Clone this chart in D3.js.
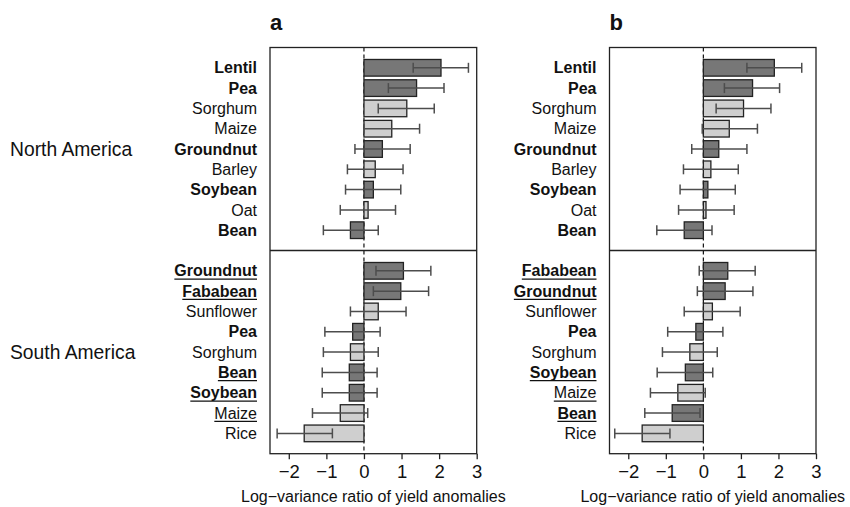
<!DOCTYPE html>
<html>
<head>
<meta charset="utf-8">
<script src="https://cdn.jsdelivr.net/npm/d3@7"></script>
<style>
  html, body { margin: 0; padding: 0; background: #fff; }
  svg { display: block; font-family: "Liberation Sans", Arial, Helvetica, sans-serif; }
</style>
</head>
<body>
<svg id="chart" width="850" height="507"></svg>
<script>
// ---------- DATA ----------
const legumes = ["Lentil", "Pea", "Groundnut", "Soybean", "Bean", "Fababean"];
const regions = ["North America", "South America"];
const panelLetters = ["a", "b"];
const tickValues = [-2, -1, 0, 1, 2, 3];
const axisTitle = "Log\u2212variance ratio of yield anomalies";

// Panel a
const naCropsA = ["Lentil", "Pea", "Sorghum", "Maize", "Groundnut", "Barley", "Soybean", "Oat", "Bean"];
const naValA   = [2.05, 1.40, 1.14, 0.74, 0.49, 0.30, 0.25, 0.11, -0.36];
const naLoA    = [1.31, 0.65, 0.38, 0.00, -0.24, -0.44, -0.49, -0.63, -1.08];
const naHiA    = [2.78, 2.13, 1.87, 1.48, 1.23, 1.04, 0.98, 0.84, 0.38];
const naUnderA = [];

const saCropsA = ["Groundnut", "Fababean", "Sunflower", "Pea", "Sorghum", "Bean", "Soybean", "Maize", "Rice"];
const saValA   = [1.05, 0.98, 0.38, -0.30, -0.36, -0.39, -0.39, -0.63, -1.59];
const saLoA    = [0.32, 0.25, -0.36, -1.04, -1.08, -1.11, -1.11, -1.37, -2.31];
const saHiA    = [1.78, 1.72, 1.12, 0.43, 0.38, 0.35, 0.35, 0.10, -0.84];
const saUnderA = ["Groundnut", "Fababean", "Bean", "Soybean", "Maize"];

// Panel b
const naCropsB = ["Lentil", "Pea", "Sorghum", "Maize", "Groundnut", "Barley", "Soybean", "Oat", "Bean"];
const naValB   = [1.89, 1.31, 1.07, 0.69, 0.41, 0.20, 0.12, 0.07, -0.51];
const naLoB    = [1.16, 0.56, 0.34, -0.03, -0.31, -0.53, -0.62, -0.66, -1.24];
const naHiB    = [2.62, 2.03, 1.80, 1.44, 1.16, 0.93, 0.85, 0.82, 0.23];
const naUnderB = [];

const saCropsB = ["Fababean", "Groundnut", "Sunflower", "Pea", "Sorghum", "Soybean", "Maize", "Bean", "Rice"];
const saValB   = [0.65, 0.58, 0.24, -0.20, -0.36, -0.48, -0.68, -0.83, -1.63];
const saLoB    = [-0.11, -0.16, -0.51, -0.95, -1.09, -1.23, -1.41, -1.56, -2.36];
const saHiB    = [1.38, 1.32, 0.98, 0.52, 0.37, 0.25, 0.05, -0.09, -0.89];
const saUnderB = ["Fababean", "Groundnut", "Soybean", "Maize", "Bean"];

// ---------- LAYOUT ----------
const svg = d3.select("#chart");
const boxTop = 47.5, boxMid = 250.5, boxBottom = 453.7;
const panels = [
  { letter: panelLetters[0], x0: 270, x1: 476.7,
    blocks: [
      { crops: naCropsA, val: naValA, lo: naLoA, hi: naHiA, under: naUnderA },
      { crops: saCropsA, val: saValA, lo: saLoA, hi: saHiA, under: saUnderA } ] },
  { letter: panelLetters[1], x0: 609.5, x1: 816,
    blocks: [
      { crops: naCropsB, val: naValB, lo: naLoB, hi: naHiB, under: naUnderB },
      { crops: saCropsB, val: saValB, lo: saLoB, hi: saHiB, under: saUnderB } ] }
];
const blockRanges = [[boxTop, boxMid], [boxMid, boxBottom]];

const darkFill = "#777777", lightFill = "#cfcfcf";

// Region labels
regions.forEach((r, i) => {
  const [t, b] = blockRanges[i];
  svg.append("text")
    .attr("x", 10).attr("y", (t + b) / 2 + 7)
    .attr("font-size", 19.3).attr("fill", "#111")
    .text(r);
});

panels.forEach(p => {
  const g = svg.append("g");
  const x = d3.scaleLinear().domain([-2.5, 3]).range([p.x0, p.x1]);

  // panel letter
  g.append("text")
    .attr("x", p.x0).attr("y", 30)
    .attr("font-size", 22).attr("font-weight", "bold").attr("fill", "#111")
    .text(p.letter);

  // zero dashed line
  g.append("line")
    .attr("x1", x(0)).attr("x2", x(0))
    .attr("y1", boxTop).attr("y2", boxBottom)
    .attr("stroke", "#111").attr("stroke-width", 1.2)
    .attr("stroke-dasharray", "4,3");

  p.blocks.forEach((blk, bi) => {
    const [t, b] = blockRanges[bi];
    const y = d3.scalePoint().domain(blk.crops).range([t, b]).padding(1);
    const step = y.step();
    const bh = step * 0.82;
    const data = blk.crops.map((c, i) => ({
      crop: c, v: blk.val[i], lo: blk.lo[i], hi: blk.hi[i],
      legume: legumes.includes(c), under: blk.under.includes(c)
    }));

    // bars
    g.selectAll(null).data(data).enter().append("rect")
      .attr("x", d => x(Math.min(0, d.v)))
      .attr("y", d => y(d.crop) - bh / 2)
      .attr("width", d => Math.abs(x(d.v) - x(0)))
      .attr("height", bh)
      .attr("fill", d => d.legume ? darkFill : lightFill)
      .attr("stroke", "#222").attr("stroke-width", 1.3);

    // error bars
    const eb = g.selectAll(null).data(data).enter().append("g")
      .attr("stroke", "#4d4d4d").attr("stroke-width", 1.5);
    eb.append("line")
      .attr("x1", d => x(d.lo)).attr("x2", d => x(d.hi))
      .attr("y1", d => y(d.crop)).attr("y2", d => y(d.crop));
    eb.append("line")
      .attr("x1", d => x(d.lo)).attr("x2", d => x(d.lo))
      .attr("y1", d => y(d.crop) - 5).attr("y2", d => y(d.crop) + 5);
    eb.append("line")
      .attr("x1", d => x(d.hi)).attr("x2", d => x(d.hi))
      .attr("y1", d => y(d.crop) - 5).attr("y2", d => y(d.crop) + 5);

    // labels
    const lx = p.x0 - 13;
    g.selectAll(null).data(data).enter().append("text")
      .attr("x", lx).attr("y", d => y(d.crop) + 5.6)
      .attr("text-anchor", "end")
      .attr("font-size", 16)
      .attr("font-weight", d => d.legume ? "bold" : "normal")
      .attr("fill", "#111")
      .text(d => d.crop)
      .each(function (d) {
        if (d.under) {
          const w = this.getComputedTextLength();
          g.append("line")
            .attr("x1", lx - w).attr("x2", lx)
            .attr("y1", y(d.crop) + 8.3).attr("y2", y(d.crop) + 8.3)
            .attr("stroke", "#111").attr("stroke-width", 1.2);
        }
      });
  });

  // box and divider
  g.append("rect")
    .attr("x", p.x0).attr("y", boxTop)
    .attr("width", p.x1 - p.x0).attr("height", boxBottom - boxTop)
    .attr("fill", "none").attr("stroke", "#222").attr("stroke-width", 1.3);
  g.append("line")
    .attr("x1", p.x0).attr("x2", p.x1)
    .attr("y1", boxMid).attr("y2", boxMid)
    .attr("stroke", "#222").attr("stroke-width", 1.3);

  // axis
  const axis = d3.axisBottom(x).tickValues(tickValues).tickSize(5.5).tickPadding(6)
    .tickFormat(d3.format("d"));
  const ag = g.append("g").attr("transform", `translate(0,${boxBottom})`).call(axis);
  ag.select(".domain").remove();
  ag.selectAll(".tick line").attr("stroke", "#222").attr("stroke-width", 1.3);
  ag.selectAll(".tick text")
    .attr("font-size", 18.5).attr("fill", "#111")
    .attr("font-family", "Liberation Sans, Arial, sans-serif")
    .attr("dy", null).attr("y", 24.5);

  g.append("text")
    .attr("x", (p.x0 + p.x1) / 2).attr("y", 501.5)
    .attr("text-anchor", "middle").attr("font-size", 16).attr("fill", "#111")
    .text(axisTitle);
});
</script>
</body>
</html>
